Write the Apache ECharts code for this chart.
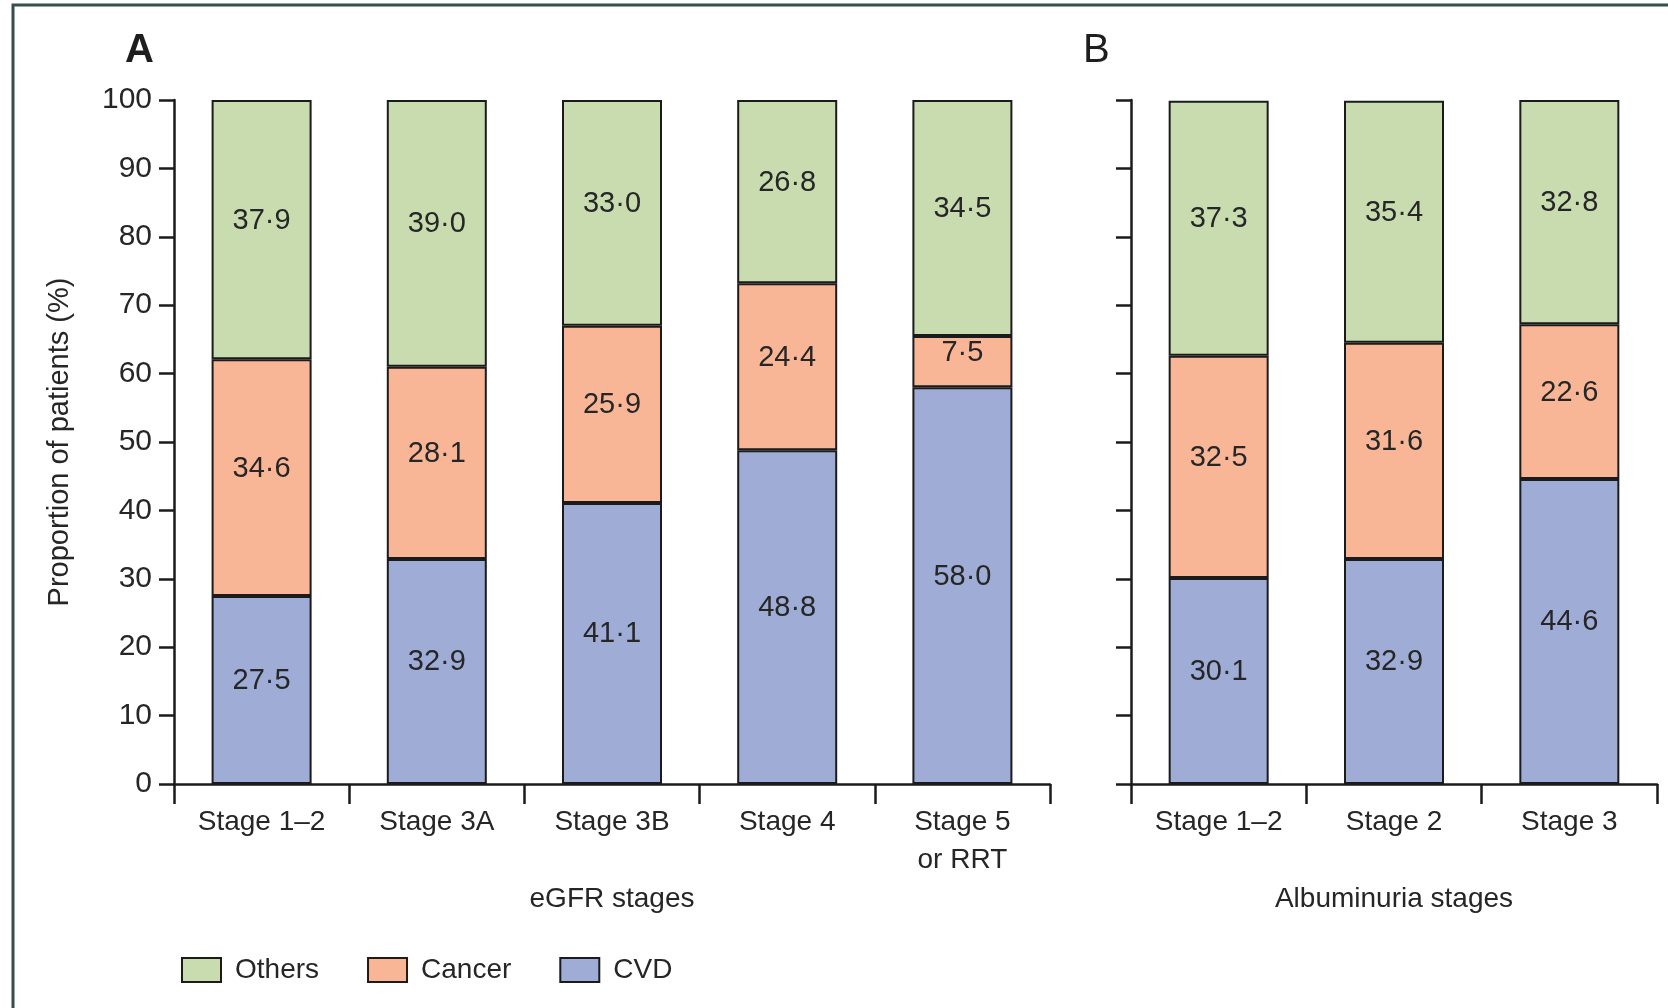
<!DOCTYPE html>
<html>
<head>
<meta charset="utf-8">
<script src="https://cdn.jsdelivr.net/npm/echarts@6/dist/echarts.min.js"></script>
<style>
  html, body { margin: 0; padding: 0; background: #ffffff; }
  #chart { width: 1668px; height: 1008px; }
</style>
</head>
<body>
<div id="chart"></div>
<script>
// Panel A: eGFR stages
const egfrStages = ['Stage 1–2', 'Stage 3A', 'Stage 3B', 'Stage 4', 'Stage 5\nor RRT'];
const egfrCvd    = [27.5, 32.9, 41.1, 48.8, 58.0];
const egfrCancer = [34.6, 28.1, 25.9, 24.4, 7.5];
const egfrOthers = [37.9, 39.0, 33.0, 26.8, 34.5];

// Panel B: albuminuria stages
const albStages = ['Stage 1–2', 'Stage 2', 'Stage 3'];
const albCvd    = [30.1, 32.9, 44.6];
const albCancer = [32.5, 31.6, 22.6];
const albOthers = [37.3, 35.4, 32.8];

const yMin = 0, yMax = 100, yStep = 10;

const FONT = '"Liberation Sans", Arial, sans-serif';
const TEXT = '#262626';
const EDGE = '#1b1b1b';
const COLORS = { Others: '#c8dcb0', Cancer: '#f9b697', CVD: '#9eacd6' };

function fmt(v) { return v.toFixed(1).replace('.', '·'); }

function xAxis(gridIndex, cats, name) {
  return {
    type: 'category', gridIndex, data: cats,
    name, nameLocation: 'middle', nameGap: 101,
    nameTextStyle: { fontFamily: FONT, fontSize: 28, color: TEXT },
    axisLine: { lineStyle: { color: EDGE, width: 2.5 } },
    axisTick: { show: true, length: 20, inside: false, lineStyle: { color: EDGE, width: 2.5 } },
    axisLabel: { margin: 19, fontFamily: FONT, fontSize: 28, color: TEXT, lineHeight: 38 }
  };
}

function yAxis(gridIndex, showLabels) {
  return {
    type: 'value', gridIndex, min: yMin, max: yMax, interval: yStep,
    name: showLabels ? 'Proportion of patients (%)' : '',
    nameLocation: 'middle', nameGap: 100,
    nameTextStyle: { fontFamily: FONT, fontSize: 29, color: TEXT },
    splitLine: { show: false },
    axisLine: { show: true, lineStyle: { color: EDGE, width: 2.5 } },
    axisTick: { show: true, length: 15, lineStyle: { color: EDGE, width: 2.5 } },
    axisLabel: { show: showLabels, margin: 22, fontFamily: FONT, fontSize: 30, color: TEXT }
  };
}

function seg(name, data, axisIndex, stack) {
  return {
    type: 'bar', name, data, stack,
    xAxisIndex: axisIndex, yAxisIndex: axisIndex,
    barWidth: 100,
    itemStyle: { color: COLORS[name], borderColor: EDGE, borderWidth: 2 },
    label: {
      show: true, position: 'inside', offset: [0, -9],
      fontFamily: FONT, fontSize: 29, color: TEXT,
      formatter: p => fmt(p.value)
    },
    emphasis: { disabled: true }
  };
}

const chart = echarts.init(document.getElementById('chart'), null, { renderer: 'canvas' });

chart.setOption({
  animation: false,
  backgroundColor: '#ffffff',
  title: [
    { text: 'A', left: 120, top: 26, textStyle: { fontFamily: FONT, fontSize: 40, fontWeight: 'bold', color: '#1e1e1e' } },
    { text: 'B', left: 1078, top: 26, textStyle: { fontFamily: FONT, fontSize: 40, fontWeight: 'normal', color: '#1e1e1e' } }
  ],
  graphic: [
    { type: 'rect', shape: { x: 13, y: 5, width: 1700, height: 1100 }, style: { fill: 'none', stroke: '#34504a', lineWidth: 3 }, silent: true }
  ],
  legend: {
    data: ['Others', 'Cancer', 'CVD'],
    left: 176, top: 951,
    itemWidth: 39, itemHeight: 24, itemGap: 48,
    icon: 'rect',
    itemStyle: { borderColor: EDGE, borderWidth: 2 },
    textStyle: { fontFamily: FONT, fontSize: 28, color: TEXT, padding: [0, 0, 0, 9] }
  },
  grid: [
    { left: 174, top: 100, width: 876, height: 684 },
    { left: 1131, top: 100, width: 526, height: 684 }
  ],
  xAxis: [
    xAxis(0, egfrStages, 'eGFR stages'),
    xAxis(1, albStages, 'Albuminuria stages')
  ],
  yAxis: [yAxis(0, true), yAxis(1, false)],
  series: [
    seg('CVD', egfrCvd, 0, 'egfr'),
    seg('Cancer', egfrCancer, 0, 'egfr'),
    seg('Others', egfrOthers, 0, 'egfr'),
    seg('CVD', albCvd, 1, 'alb'),
    seg('Cancer', albCancer, 1, 'alb'),
    seg('Others', albOthers, 1, 'alb')
  ]
});
</script>
</body>
</html>
